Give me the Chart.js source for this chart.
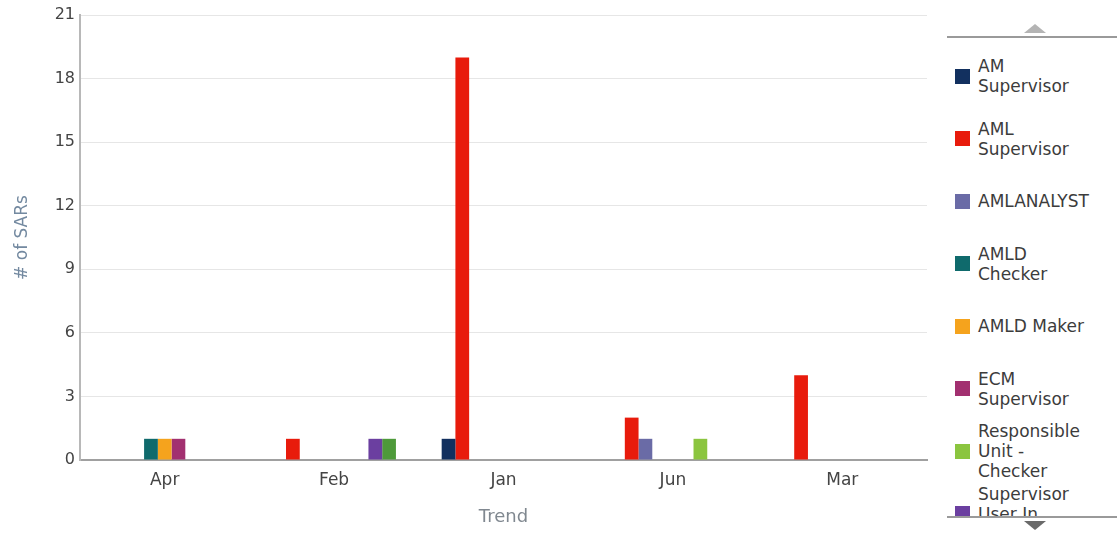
<!DOCTYPE html>
<html>
<head>
<meta charset="utf-8">
<script src="https://cdn.jsdelivr.net/npm/chart.js@4/dist/chart.umd.min.js"></script>
<style>
  html, body { margin: 0; padding: 0; background: #fff; }
  body { width: 1117px; height: 533px; position: relative; overflow: hidden; font-family: "DejaVu Sans", sans-serif; }
  #chartBox { position: absolute; left: 0; top: 0; width: 940px; height: 533px; }
  #legend { position: absolute; left: 947px; top: 0; width: 170px; height: 533px; }
  #legend .line { position: absolute; left: 0; width: 170px; height: 2px; background: #9a9a9a; }
  #legend .up { position: absolute; left: 77px; top: 24px; width: 0; height: 0;
    border-left: 11px solid transparent; border-right: 11px solid transparent; border-bottom: 9px solid #b4b4b4; }
  #legend .down { position: absolute; left: 77px; top: 521px; width: 0; height: 0;
    border-left: 11px solid transparent; border-right: 11px solid transparent; border-top: 9px solid #6a6a6a; }
  #items { position: absolute; left: 0; top: 38px; width: 170px; height: 478px; overflow: hidden; padding-top: 7px; box-sizing: border-box; }
  .item { display: flex; align-items: center; height: 62.5px; }
  .sw { width: 15px; height: 15px; margin-left: 8px; flex: none; }
  .txt { margin-left: 8px; width: 116px; font-size: 17px; line-height: 20px; color: #3c3c3c; }
</style>
</head>
<body>
<div id="chartBox"><canvas id="myChart"></canvas></div>
<div id="legend">
  <div class="up"></div>
  <div class="line" style="top:36px"></div>
  <div id="items"></div>
  <div class="line" style="top:516px"></div>
  <div class="down"></div>
</div>
<script>
// Data
const months = ['Apr', 'Feb', 'Jan', 'Jun', 'Mar'];
const seriesNames = ['AM Supervisor', 'AML Supervisor', 'AMLANALYST', 'AMLD Checker', 'AMLD Maker',
    'ECM Supervisor', 'Responsible Unit - Checker', 'Supervisor User In Charge', 'Team Lead'];
const seriesColors = ['#12305f', '#e81b0c', '#6a6ba6', '#0f6a6c', '#f5a31d',
    '#a23070', '#8bc53f', '#6b3fa0', '#4e9a3a'];

const amSupervisor = [null, null, 1, null, null];
const amlSupervisor = [null, 1, 19, 2, 4];
const amlAnalyst = [null, null, null, 1, null];
const amldChecker = [1, null, null, null, null];
const amldMaker = [1, null, null, null, null];
const ecmSupervisor = [1, null, null, null, null];
const respUnitChecker = [null, null, null, 1, null];
const supervisorUser = [null, 1, null, null, null];
const teamLead = [null, 1, null, null, null];

const yTicks = [0, 3, 6, 9, 12, 15, 18, 21];

const seriesValues = [amSupervisor, amlSupervisor, amlAnalyst, amldChecker, amldMaker,
    ecmSupervisor, respUnitChecker, supervisorUser, teamLead];

let chart;

function buildLegend() {
    const box = document.getElementById('items');
    seriesNames.forEach((name, i) => {
        const item = document.createElement('div');
        item.className = 'item';
        const sw = document.createElement('div');
        sw.className = 'sw';
        sw.style.background = seriesColors[i];
        const txt = document.createElement('div');
        txt.className = 'txt';
        txt.textContent = name;
        item.appendChild(sw);
        item.appendChild(txt);
        box.appendChild(item);
    });
}

function initializeChart() {
    const ctx = document.getElementById('myChart').getContext('2d');
    chart = new Chart(ctx, {
        type: 'bar',
        data: {
            labels: months,
            datasets: seriesNames.map((name, i) => ({
                label: name,
                data: seriesValues[i],
                backgroundColor: seriesColors[i],
                borderWidth: 0,
                categoryPercentage: 0.73,
                barPercentage: 1.0
            }))
        },
        options: {
            maintainAspectRatio: false,
            responsive: true,
            animation: false,
            layout: { padding: { top: 15, right: 13, left: 0, bottom: 0 } },
            plugins: {
                legend: { display: false },
                tooltip: { enabled: false }
            },
            scales: {
                x: {
                    grid: { display: false },
                    border: { display: true, color: '#a0a0a0', width: 2 },
                    ticks: { color: '#444', padding: 2, font: { family: 'DejaVu Sans', size: 17 } },
                    title: { display: true, text: 'Trend', color: '#808890',
                        font: { family: 'DejaVu Sans', size: 18 }, padding: { top: 0, bottom: 5 } },
                    afterFit: (s) => { s.height = 73; }
                },
                y: {
                    min: 0,
                    max: 21,
                    afterBuildTicks: (s) => { s.ticks = yTicks.map(v => ({ value: v })); },
                    grid: { color: '#e6e6e6', drawTicks: false },
                    border: { display: true, color: '#b8b8b8', width: 2 },
                    ticks: { color: '#444', padding: 5, font: { family: 'DejaVu Sans', size: 16 } },
                    title: { display: true, text: '# of SARs', color: '#7389a0',
                        font: { family: 'DejaVu Sans', size: 17 }, padding: { top: 12, bottom: 0 } },
                    afterFit: (s) => { s.width = 80; }
                }
            }
        }
    });
}

buildLegend();
initializeChart();
</script>
</body>
</html>
